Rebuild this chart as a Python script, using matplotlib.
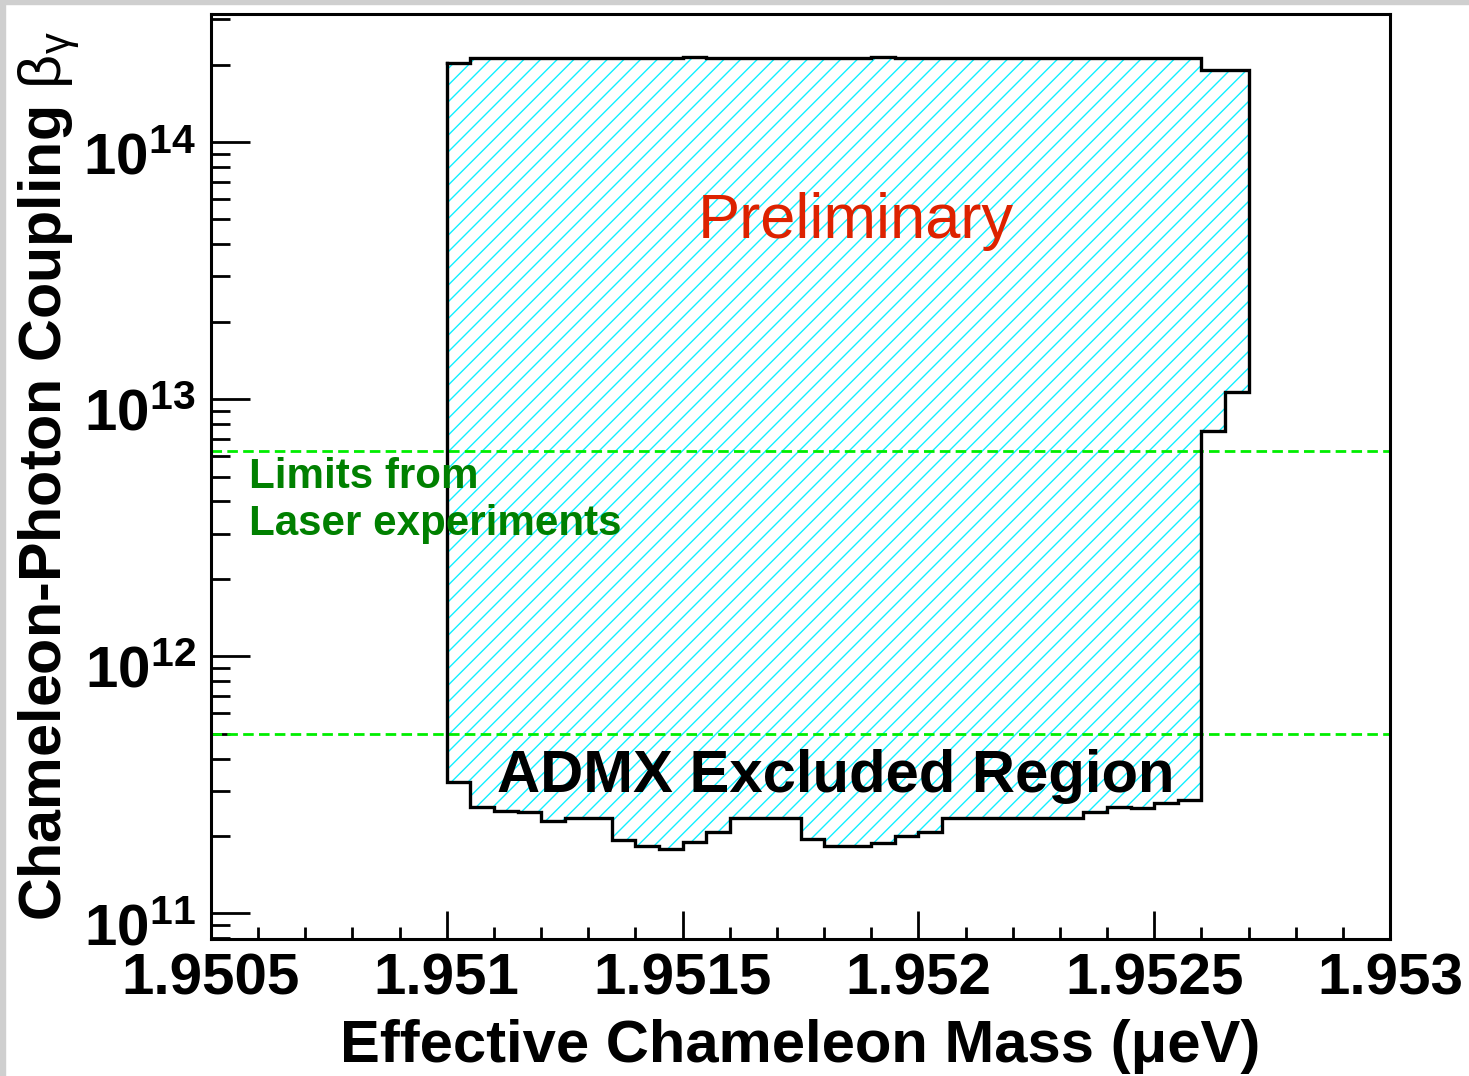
import numpy as np
import matplotlib
matplotlib.use("Agg")
import matplotlib.pyplot as plt
from matplotlib.patches import Rectangle
from matplotlib.ticker import FixedLocator, LogLocator, NullFormatter, MultipleLocator
import matplotlib.transforms as mtransforms

# =========================
# DATA
# =========================
BIN_START = 1.9510
BIN_WIDTH = 0.00005

# lower edge of excluded region, one value per mass bin
lower_limit = [
    3.23e11, 2.58e11, 2.51e11, 2.47e11, 2.29e11, 2.34e11, 2.34e11, 1.92e11,
    1.83e11, 1.78e11, 1.90e11, 2.08e11, 2.34e11, 2.34e11, 2.34e11, 1.95e11,
    1.83e11, 1.83e11, 1.87e11, 1.99e11, 2.08e11, 2.34e11, 2.34e11, 2.34e11,
    2.34e11, 2.34e11, 2.34e11, 2.48e11, 2.60e11, 2.56e11, 2.68e11, 2.76e11,
    7.51e12, 1.07e13,
]
# upper edge of excluded region
upper_limit = [
    2.03e14, 2.12e14, 2.12e14, 2.12e14, 2.12e14, 2.12e14, 2.12e14, 2.12e14,
    2.12e14, 2.12e14, 2.15e14, 2.12e14, 2.12e14, 2.12e14, 2.12e14, 2.12e14,
    2.12e14, 2.12e14, 2.15e14, 2.12e14, 2.12e14, 2.12e14, 2.12e14, 2.12e14,
    2.12e14, 2.12e14, 2.12e14, 2.12e14, 2.12e14, 2.12e14, 2.12e14, 2.12e14,
    1.90e14, 1.90e14,
]

# laser experiment limits (dashed lines)
laser_limits = [6.3e12, 5.0e11]

x_ticks = [1.9505, 1.9510, 1.9515, 1.9520, 1.9525, 1.9530]
x_tick_labels = ["1.9505", "1.951", "1.9515", "1.952", "1.9525", "1.953"]
y_ticks = [1e11, 1e12, 1e13, 1e14]
y_tick_labels = [r"$\mathbf{10^{11}}$", r"$\mathbf{10^{12}}$",
                 r"$\mathbf{10^{13}}$", r"$\mathbf{10^{14}}$"]

# =========================
# STYLE
# =========================
plt.rcParams["font.family"] = ["Liberation Sans", "DejaVu Sans"]
plt.rcParams["mathtext.fontset"] = "custom"
plt.rcParams["mathtext.rm"] = "Liberation Sans"
plt.rcParams["mathtext.bf"] = "Liberation Sans:bold"
plt.rcParams["mathtext.it"] = "Liberation Sans:italic"
plt.rcParams["hatch.linewidth"] = 1.0

W, H = 1469, 1076
fig = plt.figure(figsize=(W / 100, H / 100), dpi=100)

# grey screenshot frame on top and left
fig.patches.append(Rectangle((0, 1 - 4 / H), 1, 4 / H, transform=fig.transFigure,
                             color="#cfcfcf", zorder=-10))
fig.patches.append(Rectangle((0, 0), 5 / W, 1, transform=fig.transFigure,
                             color="#cfcfcf", zorder=-10))

ax = fig.add_axes([211 / W, 1 - 939 / H, (1390 - 211) / W, (939 - 14) / H])
ax.set_yscale("log")
ax.set_xlim(1.9505, 1.9530)
ax.set_ylim(10 ** 10.9, 10 ** 14.498)

# excluded region as a stepped polygon
edges = BIN_START + BIN_WIDTH * np.arange(len(lower_limit) + 1)
xs = np.repeat(edges, 2)[1:-1]
y_top = np.repeat(upper_limit, 2)
y_low = np.repeat(lower_limit, 2)
px = np.concatenate([xs, xs[::-1], xs[:1]])
py = np.concatenate([y_top, y_low[::-1], y_top[:1]])

ax.fill(px, py, facecolor="none", edgecolor="#10f0ff", hatch="//", lw=0, zorder=1)

for lim in laser_limits:
    ax.axhline(lim, color="#00ee00", lw=2.0, ls=(0, (3.8, 1.9)), zorder=2)

ax.plot(px, py, color="black", lw=2.4, solid_joinstyle="miter", zorder=3)

# ticks
ax.xaxis.set_major_locator(FixedLocator(x_ticks))
ax.xaxis.set_minor_locator(MultipleLocator(0.0001))
ax.set_xticklabels(x_tick_labels, fontsize=42, fontweight="bold")
ax.yaxis.set_major_locator(FixedLocator(y_ticks))
ax.yaxis.set_minor_locator(LogLocator(base=10, subs=np.arange(2, 10)))
ax.yaxis.set_minor_formatter(NullFormatter())
ax.set_yticklabels(y_tick_labels, fontsize=42)

ax.tick_params(axis="both", which="both", direction="in", top=False, right=False,
               width=2.0, colors="black")
ax.tick_params(axis="x", which="major", length=20, pad=10)
ax.tick_params(axis="x", which="minor", length=9)
ax.tick_params(axis="y", which="major", length=28, pad=11)
ax.tick_params(axis="y", which="minor", length=14)

shift = mtransforms.ScaledTranslation(0, -10 / 100, fig.dpi_scale_trans)
for lab in ax.get_yticklabels():
    lab.set_transform(lab.get_transform() + shift)

for sp in ax.spines.values():
    sp.set_linewidth(2.2)

# axis titles
fig.text(800.5 / W, 1 - 1062 / H, "Effective Chameleon Mass (\u03bceV)",
         fontsize=43, fontweight="bold", ha="center", va="baseline")
fig.text(62 / W, 1 - 476 / H,
         r"Chameleon-Photon Coupling $\mathrm{\beta}_{\mathrm{\gamma}}$",
         fontsize=42.7, fontweight="bold", rotation=90, rotation_mode="anchor",
         ha="center", va="baseline")

# annotations
ax.text(1.951533, 4.23e13, "Preliminary", color="#dd2200", fontsize=45.5,
        va="baseline", ha="left", zorder=4)
ax.text(1.951106, 2.96e11, "ADMX Excluded Region", color="black", fontsize=43,
        fontweight="bold", va="baseline", ha="left", zorder=4)
ax.text(1.95058, 4.5e12, "Limits from", color="#008000", fontsize=30.3,
        fontweight="bold", va="baseline", ha="left", zorder=4)
ax.text(1.95058, 2.96e12, "Laser experiments", color="#008000", fontsize=30.3,
        fontweight="bold", va="baseline", ha="left", zorder=4)

fig.savefig("out.png", dpi=100)
